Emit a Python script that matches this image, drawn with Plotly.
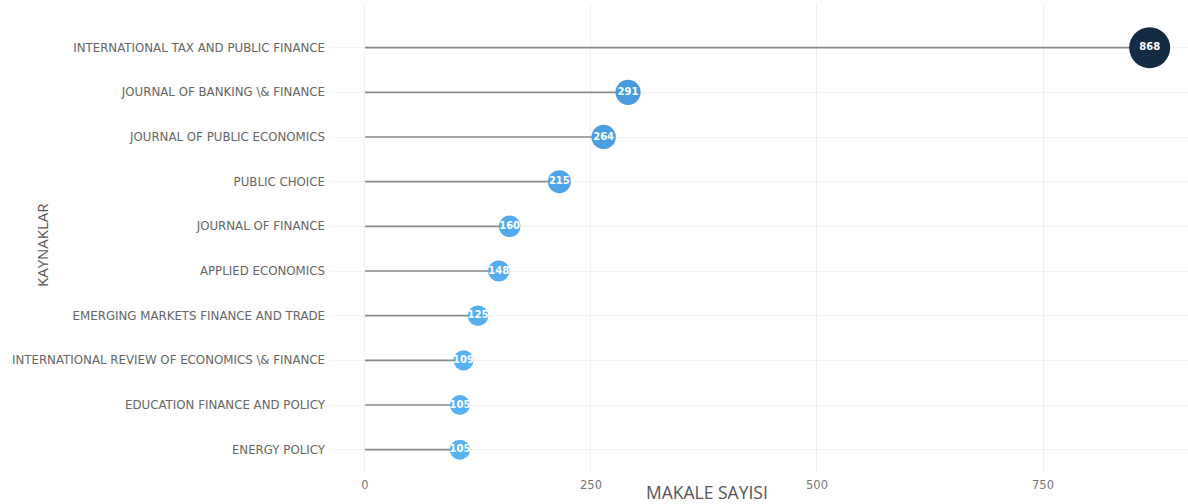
import plotly.graph_objects as go

sources = [
    "ENERGY POLICY",
    "EDUCATION FINANCE AND POLICY",
    "INTERNATIONAL REVIEW OF ECONOMICS \\& FINANCE",
    "EMERGING MARKETS FINANCE AND TRADE",
    "APPLIED ECONOMICS",
    "JOURNAL OF FINANCE",
    "PUBLIC CHOICE",
    "JOURNAL OF PUBLIC ECONOMICS",
    "JOURNAL OF BANKING \\& FINANCE",
    "INTERNATIONAL TAX AND PUBLIC FINANCE",
]
counts = [105, 105, 109, 125, 148, 160, 215, 264, 291, 868]

vmin, vmax = min(counts), max(counts)
sizes = [20 + (v - vmin) / (vmax - vmin) * 21 for v in counts]

fig = go.Figure()

# stems
for s, v in zip(sources, counts):
    fig.add_trace(go.Scatter(
        x=[0, v], y=[s, s], mode="lines",
        line=dict(color="#8a8a8a", width=1.6),
        hoverinfo="skip", showlegend=False,
    ))

fig.add_trace(go.Scatter(
    x=counts, y=sources, mode="markers+text",
    text=[str(v) for v in counts],
    textposition="middle center",
    textfont=dict(color="white", size=10, family="DejaVu Sans", weight="bold"),
    marker=dict(
        size=sizes, color=counts, cmin=vmin, cmax=vmax,
        colorscale=[[0, "#56B1F7"], [0.5, "#3A84C4"], [1, "#132B43"]],
        line=dict(width=0), opacity=1,
    ),
    cliponaxis=False,
    showlegend=False,
))

fig.update_layout(
    width=1188, height=504,
    margin=dict(l=330, r=0, t=3, b=32),
    paper_bgcolor="white", plot_bgcolor="white",
    font=dict(family="DejaVu Sans, Verdana, sans-serif", color="#555555", size=10),
    xaxis=dict(
        range=[-38.7, 910.4], tickvals=[0, 250, 500, 750],
        showgrid=True, gridcolor="#f0f0f0", gridwidth=1,
        zeroline=False, showline=False, ticks="",
        ticklabelstandoff=4,
        tickfont=dict(size=11.5, color="#777777"),
    ),
    yaxis=dict(
        categoryorder="array", categoryarray=sources,
        range=[-0.5, 10.0],
        showgrid=True, gridcolor="#f3f3f3", gridwidth=1,
        zeroline=False, showline=False, ticks="",
        ticklabelstandoff=4,
        tickfont=dict(size=11.8, color="#666666"),
    ),
    annotations=[
        dict(text="MAKALE SAYISI", xref="paper", yref="paper",
             x=(707 - 330) / (1188 - 330), y=-(492 - 472) / 469,
             xanchor="center", yanchor="middle", showarrow=False,
             font=dict(size=17.5, color="#555555", family="Open Sans, sans-serif")),
        dict(text="KAYNAKLAR", xref="paper", yref="paper",
             x=-(330 - 42) / (1188 - 330), y=1 - (245 - 3) / 469,
             xanchor="center", yanchor="middle", showarrow=False,
             textangle=-90, font=dict(size=15, color="#555555", family="Open Sans, sans-serif")),
    ],
)

fig.write_html("out.html", config={"displayModeBar": False},
               post_script="document.body.style.margin='0';document.body.style.overflow='hidden';")
